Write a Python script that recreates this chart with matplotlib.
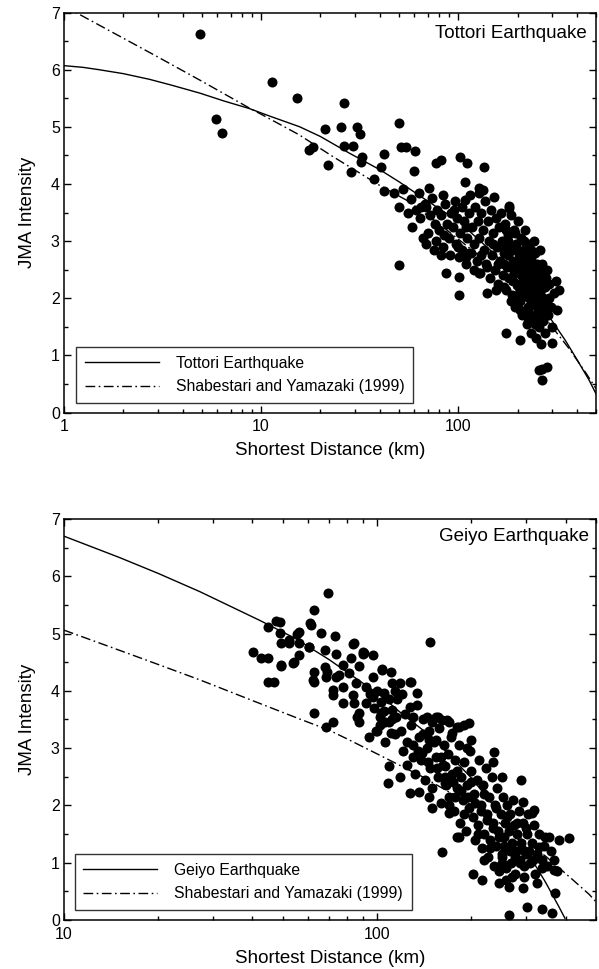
import matplotlib
matplotlib.use("Agg")
import matplotlib.pyplot as plt
from matplotlib.ticker import LogLocator, MultipleLocator, FixedLocator, FixedFormatter, NullFormatter

# --- Tottori earthquake observations (km, JMA intensity)
tottori_dist = [4.9, 5.9, 6.3, 11.3, 15.2, 26.5, 17.5, 18.3, 21.8, 21.2,
                25.3, 30.7, 31.6, 26.5, 29.4, 32.0, 32.6, 28.7, 37.2, 40.4,
                42.2, 42.2, 47.4, 50.3, 49.9, 51.4, 54.4, 60.2, 52.7, 57.5,
                59.7, 55.4, 50.3, 77.1, 81.7, 71.3, 83.4, 69, 102, 111,
                108, 135, 133, 152, 181, 108, 204, 101, 81.7, 86.6,
                101, 140, 101, 277, 128, 181, 128, 175, 207, 300,
                266, 257, 282, 266, 110, 114, 128]
tottori_jma = [6.63, 5.14, 4.89, 5.78, 5.51, 5.41, 4.60, 4.65, 4.33, 4.96,
               4.99, 4.99, 4.87, 4.67, 4.66, 4.39, 4.48, 4.21, 4.09, 4.30,
               4.53, 3.87, 3.84, 5.07, 3.59, 4.64, 4.64, 4.58, 3.91, 3.74,
               4.23, 3.49, 2.58, 4.36, 4.42, 3.93, 3.81, 3.60, 4.48, 4.36,
               4.04, 4.30, 3.90, 3.78, 3.58, 3.72, 2.79, 2.73, 2.76, 2.44,
               2.38, 2.09, 2.06, 2.20, 3.93, 3.62, 3.84, 1.39, 1.27, 1.21,
               0.77, 0.74, 0.80, 0.57, 2.73, 2.79, 2.44]

# dense part of the Tottori cloud
tottori_cloud_dist = [58, 61, 63, 66, 64, 68, 70, 72, 69, 74,
                      76, 78, 77, 80, 82, 84, 86, 88, 90, 92,
                      91, 94, 96, 98, 99, 102, 104, 105, 107, 109,
                      111, 113, 115, 116, 118, 120, 122, 124, 126, 127,
                      129, 131, 133, 135, 137, 139, 141, 143, 145, 147,
                      149, 151, 153, 155, 157, 159, 161, 163, 165, 167,
                      169, 171, 173, 175, 177, 179, 181, 183, 185, 187,
                      189, 191, 193, 195, 197, 199, 201, 203, 205, 207,
                      209, 211, 213, 215, 217, 219, 221, 223, 225, 227,
                      229, 231, 233, 235, 237, 239, 241, 243, 245, 247,
                      249, 251, 253, 255, 257, 259, 261, 263, 265, 267,
                      269, 272, 275, 278, 281, 285, 290, 295, 300, 305,
                      312, 318, 325, 195, 210, 220, 230, 240, 250, 260,
                      215, 235, 225, 245, 205, 180, 170, 190, 200, 255,
                      230, 270, 280,
                      150, 160, 170, 180, 190, 200, 210, 220, 230, 240,
                      250, 260, 270, 185, 205, 225, 245, 235, 215, 195,
                      175, 155, 140, 130, 120, 100, 85, 75, 65, 95,
                      110, 230, 250, 265, 280, 290, 260, 210, 190, 170]
tottori_cloud_jma = [3.25, 3.55, 3.85, 3.05, 3.4, 3.65, 3.15, 3.45, 2.95, 3.75,
                     3.3, 3.55, 3.0, 3.2, 3.45, 2.9, 3.65, 3.3, 3.05, 3.5,
                     2.75, 3.25, 3.7, 2.95, 3.4, 3.15, 3.6, 2.85, 3.35, 2.6,
                     3.05, 3.5, 3.8, 2.8, 3.25, 2.95, 3.6, 2.65, 3.35, 3.05,
                     2.45, 3.5, 3.2, 2.85, 3.7, 2.6, 3.35, 3.0, 2.35, 3.55,
                     2.75, 3.15, 2.5, 3.4, 2.9, 2.25, 3.25, 2.65, 3.5, 3.0,
                     2.4, 2.8, 3.3, 2.15, 2.55, 3.1, 2.35, 2.9, 3.45, 2.05,
                     2.65, 3.2, 2.45, 1.85, 2.95, 2.25, 3.35, 2.7, 1.95, 2.5,
                     3.05, 1.7, 2.3, 2.85, 2.05, 3.2, 2.6, 1.55, 2.4, 1.85,
                     2.95, 2.15, 1.4, 2.7, 1.95, 2.5, 1.65, 3.0, 2.25, 1.3,
                     2.0, 2.6, 1.75, 2.35, 1.5, 2.85, 2.1, 1.2, 1.85, 2.45,
                     1.6, 2.2, 1.4, 1.95, 2.5, 1.7, 2.25, 1.85, 1.5, 2.1,
                     2.3, 1.8, 2.15, 2.6, 2.4, 2.2, 2.0, 2.35, 2.15, 1.95,
                     2.6, 2.5, 2.75, 2.8, 2.15, 2.75, 2.6, 2.85, 2.05, 2.55,
                     1.75, 2.0, 1.75,
                     2.95, 2.6, 2.2, 3.0, 2.3, 2.85, 2.65, 2.45, 2.25, 2.05,
                     1.85, 2.3, 1.7, 1.95, 1.8, 1.65, 1.55, 2.85, 3.0, 3.15,
                     3.2, 2.15, 2.55, 2.75, 2.5, 2.9, 3.1, 2.85, 3.6, 3.55,
                     3.25, 2.6, 2.45, 2.6, 2.35, 2.0, 1.65, 2.1, 2.55, 2.9]

# attenuation curves, Tottori panel
tottori_fit_dist = [1, 1.25, 1.5, 2, 2.72, 3.5, 4.88, 6.5, 8.7, 11, 15.7, 20, 28, 40, 50, 70, 100,
                    150, 200, 267, 300, 350, 400, 461, 500]
tottori_fit_jma = [6.07, 6.04, 6.0, 5.93, 5.83, 5.73, 5.59, 5.45, 5.32, 5.19, 5.0, 4.83, 4.54, 4.25,
                   4.04, 3.70, 3.35, 2.8, 2.37, 1.85, 1.6, 1.26, 0.93, 0.57, 0.33]
sy_top_dist = [1, 1.15, 2, 3, 5.05, 8.7, 10, 15.6, 23.1, 30, 39.7, 54.4, 80, 123, 200, 290, 365, 445, 500]
sy_top_jma = [7.11, 7.0, 6.55, 6.22, 5.79, 5.33, 5.22, 4.86, 4.48, 4.24, 3.98, 3.72, 3.3, 2.79,
              2.12, 1.56, 1.12, 0.69, 0.42]

# --- Geiyo earthquake observations
geiyo_dist = [69.5, 63.1, 47.4, 44.8, 48.8, 56.5, 61.2, 66.3, 73.3, 40.2,
              42.7, 44.8, 49.4, 52.5, 49.4, 53.8, 56.5, 60.8, 68, 44.8,
              46.9, 74.1, 68, 83.6, 90.1, 96.9, 77.6, 82.5, 63.1, 63.1,
              68.5, 74.1, 81.6, 87.8, 96.9, 104, 111, 72.1, 77.6, 85.9,
              92.3, 83.6, 72.1, 77.6, 84.6, 96.9, 92.3, 105.5, 112, 63.1,
              72.1, 68.5, 87.8, 87.8, 94.5, 102, 109, 111, 103, 84.6,
              90.1, 104, 127, 134, 118, 154, 167, 180, 154, 147,
              127, 112, 86, 102, 109, 118, 108, 127, 136, 147,
              150, 161, 130, 139, 165, 178, 170, 180, 165, 161,
              170, 197, 183, 174, 199, 194, 236, 234, 251, 289,
              293, 318, 345, 183, 203, 216, 245, 264, 293, 336,
              366, 371, 302, 336, 362, 264, 258, 324, 219, 251,
              293, 329, 312, 354, 410, 381, 48.8, 52.5, 61.5, 60.8,
              56.5, 91, 69, 62.4, 75.5, 128, 144, 156, 148, 190,
              49.4, 52.5, 54.2, 55.5]
geiyo_jma = [5.71, 5.42, 5.22, 5.12, 5.01, 5.03, 5.18, 5.01, 4.96, 4.68,
             4.57, 4.57, 4.83, 4.83, 4.43, 4.49, 4.62, 4.76, 4.71, 4.16,
             4.16, 4.64, 4.42, 4.81, 4.65, 4.62, 4.45, 4.57, 4.33, 4.16,
             4.25, 4.25, 4.31, 4.43, 4.25, 4.39, 4.33, 4.01, 4.07, 4.13,
             4.07, 3.93, 3.93, 3.78, 3.78, 3.90, 3.78, 3.96, 4.13, 3.61,
             3.46, 3.37, 3.61, 3.46, 3.20, 3.40, 3.46, 3.26, 3.61, 4.83,
             4.68, 4.36, 4.16, 3.96, 4.13, 3.55, 3.49, 3.37, 3.14, 3.14,
             3.72, 3.66, 3.55, 3.55, 2.68, 2.50, 2.39, 2.21, 2.24, 2.15,
             1.95, 1.19, 2.85, 2.91, 2.68, 2.15, 1.86, 1.45, 2.39, 3.49,
             3.46, 3.43, 3.37, 3.26, 3.14, 3.00, 2.94, 2.75, 2.50, 2.44,
             2.06, 1.92, 1.45, 1.45, 0.81, 0.70, 0.64, 0.58, 0.55, 0.90,
             0.87, 0.47, 0.23, 0.20, 0.13, 0.09, 0.70, 0.64, 1.05, 1.10,
             1.22, 1.28, 1.86, 1.45, 1.43, 1.40, 5.21, 4.86, 5.15, 4.77,
             4.83, 4.66, 4.33, 4.19, 4.28, 4.16, 3.55, 3.55, 4.86, 3.40,
             4.45, 4.89, 4.51, 5.0]

geiyo_cloud_dist = [116, 119, 121, 123, 125, 128, 130, 132, 134, 136,
                    138, 140, 142, 144, 146, 148, 150, 152, 154, 156,
                    158, 160, 162, 164, 166, 168, 170, 172, 174, 176,
                    178, 180, 182, 184, 186, 188, 190, 192, 194, 196,
                    198, 200, 202, 204, 206, 208, 210, 212, 214, 216,
                    218, 220, 222, 224, 226, 228, 230, 232, 234, 236,
                    238, 240, 242, 244, 246, 248, 250, 252, 254, 256,
                    258, 260, 262, 264, 266, 268, 270, 272, 274, 276,
                    278, 280, 283, 286, 289, 292, 295, 298, 301, 304,
                    308, 312, 316, 320, 325, 330, 336, 342, 350, 358,
                    368, 376, 95, 98, 100, 103, 106, 109, 112, 114,
                    99, 106, 114, 120,
                    125, 135, 145, 155, 165, 175, 185, 195, 205, 215,
                    225, 235, 245, 255, 265, 275, 285, 295, 305, 315,
                    140, 160, 180, 200, 220, 240, 260, 280, 300, 190,
                    210, 230, 250, 270, 130, 150, 170, 105, 115, 100]
geiyo_cloud_jma = [3.85, 3.3, 2.95, 3.6, 2.7, 3.4, 3.05, 2.55, 3.75, 3.2,
                   2.8, 3.5, 2.45, 3.0, 3.3, 2.65, 2.3, 3.1, 2.85, 2.5,
                   3.35, 2.05, 2.7, 3.05, 2.35, 2.9, 2.15, 3.2, 2.55, 1.9,
                   2.8, 2.3, 3.05, 1.7, 2.5, 2.1, 2.75, 1.55, 2.35, 1.95,
                   2.95, 2.6, 1.8, 2.2, 1.4, 2.45, 1.65, 2.8, 2.0, 1.25,
                   2.35, 1.5, 2.65, 1.85, 1.1, 2.15, 1.4, 2.5, 1.7, 0.95,
                   2.0, 1.3, 2.3, 1.55, 0.85, 1.85, 1.15, 2.15, 1.45, 1.7,
                   0.9, 2.0, 1.25, 1.55, 1.85, 1.0, 1.35, 2.1, 1.65, 0.8,
                   1.2, 1.5, 1.9, 1.05, 1.35, 1.7, 0.75, 1.15, 1.5, 1.85,
                   1.0, 1.35, 1.65, 0.8, 1.15, 1.5, 1.05, 1.3, 0.95, 1.2,
                   1.05, 0.85, 3.95, 3.7, 4.0, 3.8, 3.45, 3.85, 3.5, 3.25,
                   3.3, 3.1, 4.0, 3.95,
                   3.1, 2.95, 2.75, 2.65, 2.5, 2.4, 2.25, 2.15, 2.05, 1.9,
                   1.75, 1.6, 1.45, 1.3, 1.2, 1.1, 1.0, 0.95, 1.2, 1.05,
                   3.25, 2.85, 2.6, 2.4, 2.2, 1.95, 1.8, 1.7, 1.6, 1.85,
                   1.5, 1.25, 1.0, 0.75, 3.55, 3.45, 2.0, 3.65, 3.55, 3.3]

# attenuation curves, Geiyo panel
geiyo_fit_dist = [10, 15, 20, 27.2, 42.2, 55, 70.5, 85, 102, 120, 150, 200, 250, 306, 345, 380, 398]
geiyo_fit_jma = [6.70, 6.33, 6.05, 5.73, 5.23, 4.91, 4.54, 4.23, 3.93, 3.60, 3.19, 2.48, 1.82, 1.13,
                 0.66, 0.24, 0.03]
sy_bot_dist = [10, 15, 20, 27.2, 40, 56.5, 70.5, 79.6, 100, 139.6, 200, 260, 346, 420, 475, 500]
sy_bot_jma = [5.06, 4.71, 4.46, 4.19, 3.83, 3.51, 3.31, 3.17, 2.90, 2.50, 2.01, 1.61, 1.11, 0.71, 0.45,
              0.32]

plt.rcParams["font.family"] = ["Liberation Sans", "DejaVu Sans"]

fig = plt.figure(figsize=(5.99, 9.69), dpi=100)
ax1 = fig.add_axes([0.1068, 0.5743, 0.8881, 0.4128])
ax2 = fig.add_axes([0.1068, 0.0506, 0.8881, 0.4138])

dashdot = (0, (7, 2.5, 1.2, 2.5))


def style_axis(ax, xmin, xmax, majors):
    ax.set_xscale("log")
    ax.set_xlim(xmin, xmax)
    ax.set_ylim(0, 7)
    ax.xaxis.set_major_locator(FixedLocator(majors))
    ax.xaxis.set_major_formatter(FixedFormatter([str(m) for m in majors]))
    ax.xaxis.set_minor_locator(LogLocator(base=10, subs=range(2, 10)))
    ax.xaxis.set_minor_formatter(NullFormatter())
    ax.yaxis.set_major_locator(MultipleLocator(1))
    ax.yaxis.set_minor_locator(MultipleLocator(0.5))
    ax.tick_params(which="both", direction="in", top=True, right=True, width=1, labelsize=11.5)
    ax.tick_params(which="major", length=5)
    ax.tick_params(which="minor", length=3)
    ax.tick_params(axis="y", pad=3)
    ax.tick_params(axis="x", pad=5)
    for sp in ax.spines.values():
        sp.set_linewidth(1.1)
    ax.set_ylabel("JMA Intensity", fontsize=13.5)
    ax.set_xlabel("Shortest Distance (km)", fontsize=13.5)
    ax.yaxis.set_label_coords(-0.053, 0.5)
    ax.xaxis.set_label_coords(0.5, -0.074)


def add_legend(ax, anchor):
    leg = ax.legend(loc="lower left", bbox_to_anchor=anchor, frameon=True, fancybox=False,
                    edgecolor="black", handlelength=4.7, handletextpad=1.1, borderpad=0.55,
                    labelspacing=0.55, borderaxespad=0, fontsize=11.3)
    leg.get_frame().set_linewidth(1.0)


# top panel
ax1.plot(tottori_fit_dist, tottori_fit_jma, color="black", lw=1.0, label="Tottori Earthquake", zorder=2)
ax1.plot(sy_top_dist, sy_top_jma, color="black", lw=1.0, linestyle=dashdot,
         label="Shabestari and Yamazaki (1999)", zorder=2)
ax1.scatter(tottori_dist, tottori_jma, s=52, color="black", linewidths=0, zorder=3)
ax1.scatter(tottori_cloud_dist, tottori_cloud_jma, s=52, color="black", linewidths=0, zorder=3)
style_axis(ax1, 1, 500, [1, 10, 100])
ax1.text(0.982, 0.968, "Tottori Earthquake", transform=ax1.transAxes, ha="right", va="top", fontsize=13.5)
add_legend(ax1, (0.023, 0.024))

# bottom panel
ax2.plot(geiyo_fit_dist, geiyo_fit_jma, color="black", lw=1.0, label="Geiyo Earthquake", zorder=2)
ax2.plot(sy_bot_dist, sy_bot_jma, color="black", lw=1.0, linestyle=dashdot,
         label="Shabestari and Yamazaki (1999)", zorder=2)
ax2.scatter(geiyo_dist, geiyo_jma, s=52, color="black", linewidths=0, zorder=3)
ax2.scatter(geiyo_cloud_dist, geiyo_cloud_jma, s=52, color="black", linewidths=0, zorder=3)
style_axis(ax2, 10, 500, [10, 100])
ax2.text(0.987, 0.977, "Geiyo Earthquake", transform=ax2.transAxes, ha="right", va="top", fontsize=13.5)
add_legend(ax2, (0.02, 0.025))

fig.savefig("out.png", dpi=100)
